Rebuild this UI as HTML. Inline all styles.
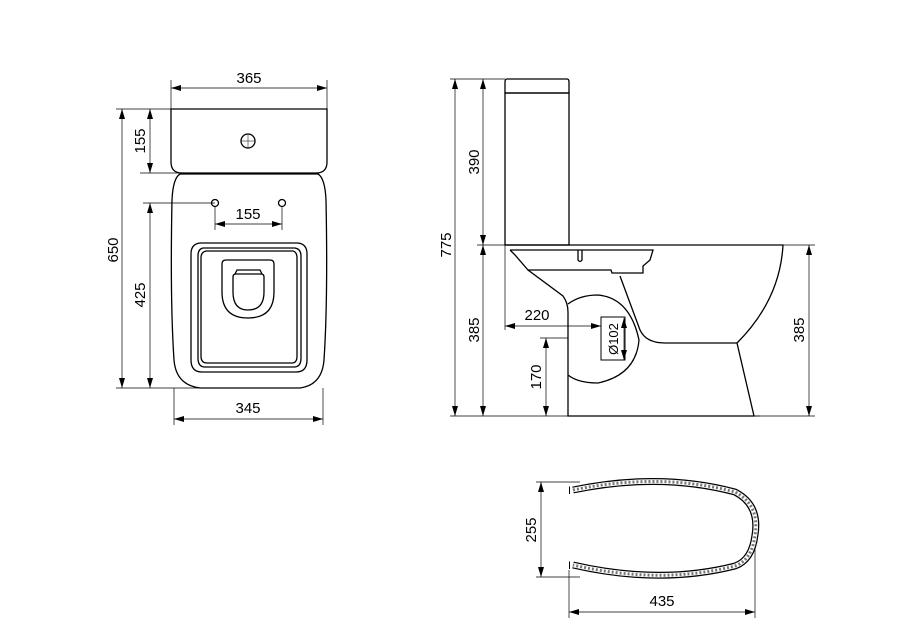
<!DOCTYPE html>
<html><head><style>html,body{margin:0;padding:0;background:#fff}svg{display:block}</style></head><body>
<svg width="900" height="636" viewBox="0 0 900 636" xmlns="http://www.w3.org/2000/svg" font-family="Liberation Sans, Arial, sans-serif" font-size="15">
<defs>
<marker id="a" viewBox="0 0 10 6" refX="10" refY="3" markerWidth="10" markerHeight="6" orient="auto-start-reverse" markerUnits="userSpaceOnUse"><path d="M0,0L10,3L0,6z" fill="#000"/></marker>
</defs>
<g fill="none" stroke="#000" stroke-width="0.7">
<line x1="171" y1="80" x2="171" y2="109"/><line x1="327" y1="80" x2="327" y2="109"/>
<line x1="116" y1="109" x2="171" y2="109"/><line x1="140" y1="173" x2="180" y2="173"/>
<line x1="143" y1="203" x2="215" y2="203"/><line x1="116" y1="388" x2="200" y2="388"/>
<line x1="174" y1="388" x2="174" y2="425"/><line x1="323" y1="388" x2="323" y2="425"/>
<line x1="215" y1="207" x2="215" y2="230"/><line x1="282" y1="207" x2="282" y2="230"/>
<line x1="171" y1="88" x2="327" y2="88" marker-start="url(#a)" marker-end="url(#a)"/>
<line x1="122" y1="109" x2="122" y2="388" marker-start="url(#a)" marker-end="url(#a)"/>
<line x1="150" y1="109" x2="150" y2="173" marker-start="url(#a)" marker-end="url(#a)"/>
<line x1="150" y1="203" x2="150" y2="388" marker-start="url(#a)" marker-end="url(#a)"/>
<line x1="215" y1="224" x2="282" y2="224" marker-start="url(#a)" marker-end="url(#a)"/>
<line x1="174" y1="419" x2="323" y2="419" marker-start="url(#a)" marker-end="url(#a)"/>
</g>
<g fill="none" stroke="#000" stroke-width="1.3">
<path d="M171,109H327V162Q327,173 316,173H182Q171,173 171,162Z"/>
<circle cx="248" cy="141" r="7"/>
<path d="M180,174H318Q325,178 326,200Q328,300 324,360Q322,385 300,388L200,388Q176,385 174,360Q170,300 172,200Q173,178 180,174Z"/>
<circle cx="215" cy="203" r="3.5"/><circle cx="282" cy="203" r="3.5"/>
<path d="M200,243H298Q307,244 307,254V360Q307,372 296,372H202Q191,372 191,360V254Q191,244 200,243Z"/>
<path d="M203,248H295Q301,249 301,256V358Q301,367 294,367H205Q198,367 198,358V256Q198,249 203,248Z"/>
<path d="M206,251H293Q297,252 297,258V356Q297,363 292,363H207Q201,363 201,356V258Q201,252 206,251Z"/>
<path d="M226,260H270Q274,260 274,264V292Q274,318 248,318Q222,318 222,292V264Q222,260 226,260Z"/>
<path d="M233,277Q233,274 236,274H261Q264,274 264,277V292Q264,310 248,310Q233,310 233,292Z"/>
<path d="M235,274L237,270H260L262,274"/>
</g>
<g stroke="#000" stroke-width="0.5"><line x1="241" y1="141" x2="255" y2="141"/><line x1="248" y1="134" x2="248" y2="148"/></g>
<g fill="none" stroke="#000" stroke-width="0.7">
<line x1="450" y1="79" x2="505" y2="79"/><line x1="477" y1="245" x2="505" y2="245"/>
<line x1="450" y1="416" x2="760" y2="416"/><line x1="783" y1="245" x2="815" y2="245"/>
<line x1="754" y1="416" x2="815" y2="416"/>
<line x1="455" y1="79" x2="455" y2="416" marker-start="url(#a)" marker-end="url(#a)"/>
<line x1="483" y1="79" x2="483" y2="245" marker-start="url(#a)" marker-end="url(#a)"/>
<line x1="483" y1="245" x2="483" y2="416" marker-start="url(#a)" marker-end="url(#a)"/>
<line x1="809" y1="245" x2="809" y2="416" marker-start="url(#a)" marker-end="url(#a)"/>
<line x1="505" y1="245" x2="505" y2="330"/>
<line x1="505" y1="326" x2="601" y2="326" marker-start="url(#a)" marker-end="url(#a)"/>
<line x1="540" y1="338" x2="568" y2="338"/>
<line x1="546" y1="338" x2="546" y2="416" marker-start="url(#a)" marker-end="url(#a)"/>
<line x1="624" y1="318" x2="624" y2="360" marker-start="url(#a)" marker-end="url(#a)"/>
<line x1="536" y1="482" x2="580" y2="482"/><line x1="536" y1="577" x2="580" y2="577"/>
<line x1="541" y1="482" x2="541" y2="577" marker-start="url(#a)" marker-end="url(#a)"/>
<line x1="569" y1="570" x2="569" y2="618"/><line x1="755" y1="535" x2="755" y2="618"/>
<line x1="569" y1="612" x2="755" y2="612" marker-start="url(#a)" marker-end="url(#a)"/>
</g>
<g fill="none" stroke="#000" stroke-width="1.3">
<path d="M507,79H567Q569,79 569,82V93H505V82Q505,79 507,79Z"/>
<rect x="505" y="93" width="64" height="152"/>
<path d="M505,245H783Q780,300 737,343L754,416H568V312Q568,303 563,296L528,270L515,255L510,250"/>
<path d="M510,250H653L650,260L643,266V273H612L611,270H528"/>
<path d="M578,250V260Q580,263 582,260V250"/>
<path d="M620,276L640,330Q646,343 665,343H737"/>
<path d="M568,304Q580,295 598,295Q630,298 639,340Q636,375 598,383Q578,383 568,375"/>
<rect x="601" y="317" width="24" height="43" stroke-width="1"/>
<path d="M573,490Q660,472 735,492Q760,505 755,535Q752,560 735,566Q660,585 573,565" stroke="#000" stroke-width="7"/>
<path d="M573,490Q660,472 735,492Q760,505 755,535Q752,560 735,566Q660,585 573,565" stroke="#fff" stroke-width="4.5"/>
<path d="M573,490Q660,472 735,492Q760,505 755,535Q752,560 735,566Q660,585 573,565" stroke="#777" stroke-width="3" stroke-dasharray="2 2"/>
<line x1="569.5" y1="486.5" x2="569.5" y2="494" stroke-width="1"/>
<line x1="569.5" y1="561.5" x2="569.5" y2="569" stroke-width="1"/>
</g>
<g fill="#000" text-anchor="middle">
<text x="249" y="83">365</text>
<text x="248" y="219">155</text>
<text x="248" y="413">345</text>
<text transform="translate(118,250) rotate(-90)">650</text>
<text transform="translate(145,141) rotate(-90)">155</text>
<text transform="translate(145,295) rotate(-90)">425</text>
<text transform="translate(451,245) rotate(-90)">775</text>
<text transform="translate(479,162) rotate(-90)">390</text>
<text transform="translate(479,330) rotate(-90)">385</text>
<text transform="translate(804,330) rotate(-90)">385</text>
<text transform="translate(541,377) rotate(-90)">170</text>
<text transform="translate(618,339) rotate(-90)" font-size="13">Ø102</text>
<text x="537" y="320">220</text>
<text transform="translate(536,530) rotate(-90)">255</text>
<text x="662" y="606">435</text>
</g>
</svg>
</body></html>
